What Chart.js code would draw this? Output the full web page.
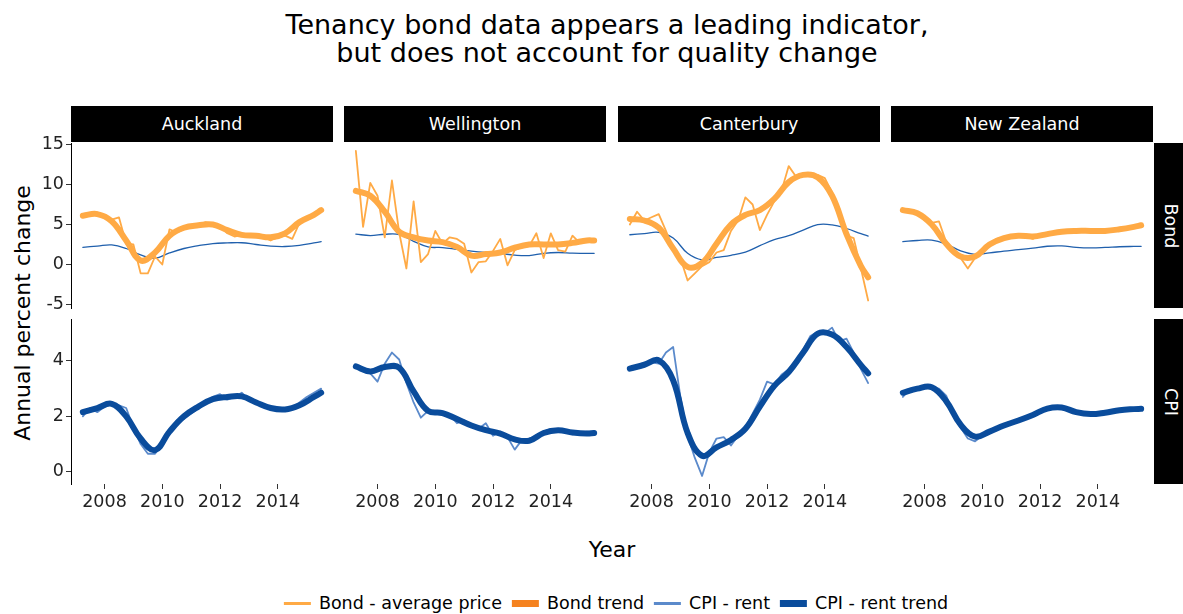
<!DOCTYPE html>
<html>
<head>
<meta charset="utf-8">
<script src="https://cdn.jsdelivr.net/npm/chart.js@4"></script>
<style>
  body { margin: 0; background: #fff; font-family: "DejaVu Sans", sans-serif; }
  #page { position: relative; width: 1183px; height: 614px; overflow: hidden; background: #fff; }
  #page canvas { position: absolute; }
  .title { position: absolute; left: 607px; top: 11px; transform: translateX(-50%); font-size: 27px; line-height: 28px; text-align: center; white-space: nowrap; color: #000; }
  .strip { position: absolute; background: #000; color: #fff; font-size: 17.5px; display: flex; align-items: center; justify-content: center; white-space: nowrap; }
  .strip.right span { display: inline-block; transform: rotate(90deg); }
  .axis-title { position: absolute; font-size: 22px; color: #000; white-space: nowrap; }
  #ytitle { left: 22px; top: 313px; transform: translate(-50%, -50%) rotate(-90deg); }
  #xtitle { left: 612px; top: 549px; transform: translate(-50%, -50%); }
  #legend { position: absolute; left: 621px; top: 603px; transform: translate(-50%, -50%); display: flex; align-items: center; font-size: 17.5px; white-space: nowrap; color: #000; }
  #legend .item { display: flex; align-items: center; margin-right: 10px; }
  #legend .key { display: inline-block; width: 27px; margin-right: 8px; }
</style>
</head>
<body>
<div id="page">
  <div class="title">Tenancy bond data appears a leading indicator,<br>but does not account for quality change</div>
  <div class="axis-title" id="ytitle">Annual percent change</div>
  <div class="axis-title" id="xtitle">Year</div>
  <div id="legend"></div>
</div>
<script>
// quarterly observations
const quarters = [2007.25, 2007.5, 2007.75, 2008, 2008.25, 2008.5, 2008.75, 2009, 2009.25, 2009.5,
                  2009.75, 2010, 2010.25, 2010.5, 2010.75, 2011, 2011.25, 2011.5, 2011.75, 2012,
                  2012.25, 2012.5, 2012.75, 2013, 2013.25, 2013.5, 2013.75, 2014, 2014.25, 2014.5,
                  2014.75, 2015, 2015.25, 2015.5];
// points of the smoothed trends
const trendYears = [2007.25, 2007.75, 2008.25, 2008.75, 2009.25, 2009.75, 2010.25, 2010.75, 2011.25,
                    2011.75, 2012.25, 2012.75, 2013.25, 2013.75, 2014.25, 2014.75, 2015.25, 2015.5];

const regions = ['Auckland', 'Wellington', 'Canterbury', 'New Zealand'];
const rows = ['Bond', 'CPI'];
const xTicks = [2008, 2010, 2012, 2014];
const bondTicks = [-5, 0, 5, 10, 15];
const cpiTicks = [0, 2, 4];

// Bond - average price
const bondAuckland = [6.0, 6.4, 6.5, 5.8, 5.6, 5.9, 2.6, 2.5, -1.1, -1.1, 1.0, 0.0, 4.4, 4.0, 4.4, 4.8, 5.0, 5.3, 5.1, 4.8,
                      3.9, 3.5, 3.7, 3.8, 3.5, 3.4, 3.0, 3.4, 3.6, 3.2, 5.2, 5.6, 6.1, 6.9];
const bondWellington = [14.2, 4.7, 10.2, 8.6, 3.4, 10.5, 4.0, -0.5, 7.9, 0.3, 1.3, 4.2, 2.6, 3.4, 3.2, 2.6, -1.0, 0.3, 0.4, 1.7,
                        3.2, -0.1, 1.8, 2.2, 2.3, 3.9, 0.8, 3.9, 1.8, 1.6, 3.6, 2.7, 3.0, 3.0];
const bondCanterbury = [5.0, 6.6, 5.5, 5.9, 6.3, 4.2, 1.8, 0.8, -2.0, -1.1, -0.2, 0.3, 1.5, 1.8, 4.2, 5.5, 8.4, 7.5, 4.3, 6.2,
                        7.9, 9.2, 12.3, 11.0, 11.3, 11.2, 11.2, 10.8, 9.0, 7.0, 3.6, 3.3, -0.5, -4.5];
const bondNZ = [6.8, 6.6, 6.4, 5.6, 5.2, 5.4, 2.8, 1.6, 0.8, -0.5, 0.8, 1.8, 2.6, 3.2, 3.4, 3.7, 3.6, 3.5, 3.2, 3.8,
                3.9, 4.1, 4.1, 4.2, 4.2, 4.2, 4.2, 4.1, 4.2, 4.4, 4.3, 4.6, 4.8, 5.0];

// Bond trend
const bondTrendAuckland = [6.1, 6.3, 5.4, 3.0, 0.5, 1.5, 3.6, 4.6, 4.9, 5.0, 4.3, 3.7, 3.6, 3.4, 3.9, 5.3, 6.2, 6.8];
const bondTrendWellington = [9.2, 8.6, 6.6, 4.1, 3.4, 3.0, 2.8, 2.2, 1.1, 1.3, 1.5, 2.1, 2.5, 2.5, 2.5, 2.7, 3.0, 3.0];
const bondTrendCanterbury = [5.7, 5.5, 4.6, 2.0, -0.3, 0.2, 2.6, 5.0, 6.2, 6.8, 8.2, 10.3, 11.2, 10.9, 8.6, 3.8, -0.2, -1.6];
const bondTrendNZ = [6.8, 6.4, 5.0, 2.6, 1.0, 1.0, 2.5, 3.3, 3.6, 3.5, 3.8, 4.1, 4.2, 4.2, 4.2, 4.4, 4.7, 4.9];

// CPI - rent
const cpiAuckland = [2.0, 2.3, 2.15, 2.35, 2.5, 2.4, 2.3, 1.6, 1.0, 0.65, 0.65, 1.0, 1.4, 1.85, 1.9, 2.1, 2.3, 2.5, 2.7, 2.8,
                     2.6, 2.7, 2.85, 2.6, 2.5, 2.4, 2.3, 2.25, 2.25, 2.3, 2.5, 2.7, 2.85, 3.0];
const cpiWellington = [3.85, 3.75, 3.55, 3.25, 3.9, 4.3, 4.05, 3.2, 2.5, 1.95, 2.2, 2.15, 2.1, 2.05, 1.75, 1.85, 1.65, 1.55, 1.75, 1.3,
                       1.45, 1.25, 0.8, 1.15, 1.2, 1.3, 1.45, 1.55, 1.5, 1.45, 1.35, 1.4, 1.45, 1.45];
const cpiCanterbury = [3.7, 3.8, 3.8, 3.95, 3.9, 4.3, 4.5, 2.7, 1.3, 0.5, -0.15, 0.7, 1.2, 1.25, 0.95, 1.3, 1.6, 2.1, 2.6, 3.25,
                       3.15, 3.5, 3.7, 4.0, 4.4, 4.9, 5.05, 5.0, 5.2, 4.7, 4.8, 4.3, 3.7, 3.2];
const cpiNZ = [2.7, 3.0, 3.0, 3.05, 3.05, 3.0, 2.75, 2.1, 1.6, 1.2, 1.1, 1.3, 1.45, 1.55, 1.7, 1.8, 1.9, 2.0, 2.1, 2.2,
               2.3, 2.35, 2.3, 2.2, 2.1, 2.1, 2.1, 2.15, 2.2, 2.2, 2.25, 2.25, 2.3, 2.3];

// CPI - rent trend
const cpiTrendAuckland = [2.15, 2.3, 2.45, 2.0, 1.2, 0.78, 1.45, 2.0, 2.35, 2.62, 2.7, 2.72, 2.5, 2.3, 2.25, 2.4, 2.7, 2.85];
const cpiTrendWellington = [3.8, 3.62, 3.78, 3.75, 2.9, 2.2, 2.12, 1.9, 1.67, 1.5, 1.38, 1.17, 1.12, 1.4, 1.5, 1.42, 1.38, 1.4];
const cpiTrendCanterbury = [3.72, 3.86, 4.02, 3.3, 1.4, 0.58, 0.88, 1.15, 1.55, 2.35, 3.1, 3.6, 4.3, 4.98, 4.95, 4.5, 3.85, 3.55];
const cpiTrendNZ = [2.85, 3.0, 3.05, 2.55, 1.7, 1.27, 1.45, 1.67, 1.85, 2.05, 2.28, 2.32, 2.15, 2.08, 2.13, 2.22, 2.26, 2.27];

const bondRaw = [bondAuckland, bondWellington, bondCanterbury, bondNZ];
const bondTrend = [bondTrendAuckland, bondTrendWellington, bondTrendCanterbury, bondTrendNZ];
const cpiRaw = [cpiAuckland, cpiWellington, cpiCanterbury, cpiNZ];
const cpiTrend = [cpiTrendAuckland, cpiTrendWellington, cpiTrendCanterbury, cpiTrendNZ];

const colBondRaw = '#ffaa45', colBondTrend = '#f5821f', colCpiRaw = '#5b8acb', colCpiTrend = '#0a4c9c';

const page = document.getElementById('page');
const lefts = [71, 344, 618, 891];
const tops = [143, 319];
const PW = 262, PH = 165, PAD = 12, YAXIS = 36, XAXIS = 32;
const font = { family: 'DejaVu Sans', size: 17.5 };

function pts(xs, ys) {
    return xs.map(function (x, i) { return { x: x, y: ys[i] }; });
}

function line(data, color, width, smooth) {
    return {
        data: data, borderColor: color, borderWidth: width, pointRadius: 0,
        tension: smooth ? 0.4 : 0, borderJoinStyle: 'round', borderCapStyle: 'round', fill: false
    };
}

function panel(r, c) {
    let yW = c === 0 ? YAXIS : 0,
        xH = r === 1 ? XAXIS : 0,
        cv = document.createElement('canvas'),
        datasets;

    cv.width = PW + 2 * PAD + yW;
    cv.height = PH + 2 * PAD + xH;
    cv.style.left = (lefts[c] - PAD - yW) + 'px';
    cv.style.top = (tops[r] - PAD) + 'px';
    page.appendChild(cv);

    if (r === 0) {
        datasets = [
            line(pts(trendYears, bondTrend[c]), colBondRaw, 6, true),
            line(pts(quarters, bondRaw[c]), colBondRaw, 1.8, false),
            line(pts(trendYears, cpiTrend[c]), '#2060ad', 1.3, true)
        ];
    } else {
        datasets = [
            line(pts(trendYears, cpiTrend[c]), colCpiTrend, 6, true),
            line(pts(quarters, cpiRaw[c]), colCpiRaw, 1.8, false)
        ];
    }

    let yTicks = r === 0 ? bondTicks : cpiTicks;

    new Chart(cv, {
        type: 'line',
        data: { datasets: datasets },
        options: {
            responsive: false,
            animation: false,
            layout: { padding: PAD },
            plugins: { legend: { display: false }, tooltip: { enabled: false } },
            scales: {
                x: {
                    type: 'linear', min: 2006.84, max: 2015.91, display: r === 1,
                    afterBuildTicks: function (s) { s.ticks = xTicks.map(function (v) { return { value: v }; }); },
                    afterFit: function (s) { s.height = xH; s.paddingLeft = 0; s.paddingRight = 0; },
                    grid: { display: true, drawOnChartArea: false, drawTicks: true, tickLength: 5, color: '#333', lineWidth: 1 },
                    border: { display: false },
                    ticks: { color: '#222', font: font, padding: 3, maxRotation: 0, autoSkip: false, callback: function (v) { return String(v); } }
                },
                y: {
                    type: 'linear', display: c === 0,
                    min: r === 0 ? -5.44 : -0.44, max: r === 0 ? 15.19 : 5.51,
                    afterBuildTicks: function (s) { s.ticks = yTicks.map(function (v) { return { value: v }; }); },
                    afterFit: function (s) { s.width = yW; s.paddingTop = 0; s.paddingBottom = 0; },
                    grid: { display: true, drawOnChartArea: false, drawTicks: true, tickLength: 5, color: '#333', lineWidth: 1 },
                    border: { display: true, color: '#000', width: 1 },
                    ticks: { color: '#222', font: font, padding: 2, callback: function (v) { return String(v); } }
                }
            }
        }
    });
}

regions.forEach(function (name, c) {
    let s = document.createElement('div');
    s.className = 'strip';
    s.style.left = lefts[c] + 'px';
    s.style.top = '106px';
    s.style.width = PW + 'px';
    s.style.height = '36px';
    s.textContent = name;
    page.appendChild(s);
});

rows.forEach(function (name, r) {
    let s = document.createElement('div');
    s.className = 'strip right';
    s.style.left = '1154px';
    s.style.top = tops[r] + 'px';
    s.style.width = '34px';
    s.style.height = PH + 'px';
    s.innerHTML = '<span>' + name + '</span>';
    page.appendChild(s);
});

for (let r = 0; r < 2; r++) {
    for (let c = 0; c < 4; c++) {
        panel(r, c);
    }
}

const legendItems = [
    ['Bond - average price', colBondRaw, 3],
    ['Bond trend', colBondTrend, 7],
    ['CPI - rent', colCpiRaw, 3],
    ['CPI - rent trend', colCpiTrend, 7]
];
let legendHtml = '';
legendItems.forEach(function (item) {
    legendHtml += '<span class="item"><span class="key" style="background:' + item[1] + ';height:' + item[2] + 'px"></span>' + item[0] + '</span>';
});
document.getElementById('legend').innerHTML = legendHtml;
</script>
</body>
</html>
